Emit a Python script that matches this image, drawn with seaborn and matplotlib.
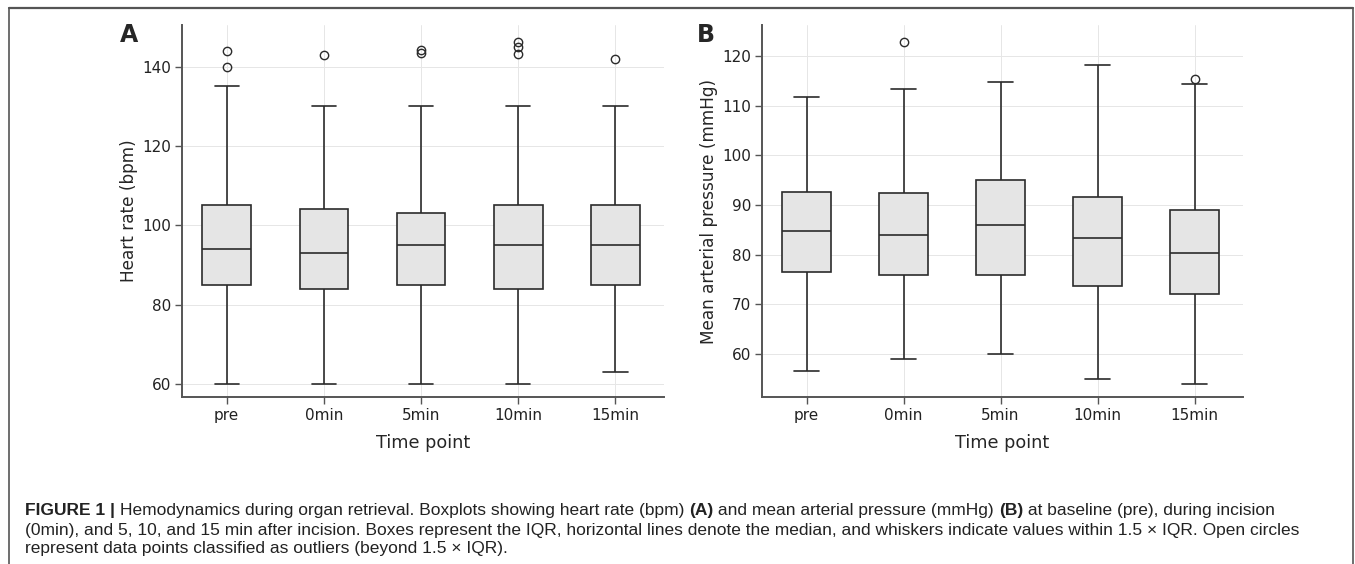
import numpy as np
import pandas as pd
import matplotlib
matplotlib.use("Agg")
import matplotlib.pyplot as plt
from matplotlib.lines import Line2D
import seaborn as sns

# ---------------- data ----------------
time_points = ["pre", "0min", "5min", "10min", "15min"]

hr_whisker_low = [60, 60, 60, 60, 63]
hr_q1 = [85, 84, 85, 84, 85]
hr_median = [94, 93, 95, 95, 95]
hr_q3 = [105, 104, 103, 105, 105]
hr_whisker_high = [135, 130, 130, 130, 130]
hr_outliers = [[140, 144], [143], [143.4, 144.2], [143.1, 145.0, 146.3], [142]]

map_whisker_low = [56.6, 59.0, 60.0, 55.0, 54.0]
map_q1 = [76.6, 76.0, 76.0, 73.7, 72.1]
map_median = [84.8, 84.0, 86.0, 83.4, 80.4]
map_q3 = [92.7, 92.4, 95.0, 91.6, 89.1]
map_whisker_high = [111.7, 113.4, 114.8, 118.1, 114.4]
map_outliers = [[], [122.7], [], [], [115.4]]


def long_table(lo, q1, med, q3, hi, outl):
    """Sample table whose quartiles / whiskers reproduce the read summary."""
    rows = []
    for i, t in enumerate(time_points):
        vals = [lo[i]] + [q1[i]] * 10 + [med[i]] * 10 + [q3[i]] * 10 + [hi[i]] + list(outl[i])
        rows += [(t, v) for v in vals]
    return pd.DataFrame(rows, columns=["time", "value"])


hr_df = long_table(hr_whisker_low, hr_q1, hr_median, hr_q3, hr_whisker_high, hr_outliers)
map_df = long_table(map_whisker_low, map_q1, map_median, map_q3, map_whisker_high, map_outliers)

# ---------------- style ----------------
sns.set_theme(style="whitegrid")
plt.rcParams["font.family"] = ["DejaVu Sans"]

W, H, DPI = 1355, 564, 100
fig = plt.figure(figsize=(W / DPI, H / DPI), dpi=DPI)
fig.patch.set_facecolor("white")


def px_axes(left, top, right, bottom):
    return fig.add_axes([left / W, 1 - bottom / H, (right - left) / W, (bottom - top) / H])


axA = px_axes(182, 25, 664, 397)
axB = px_axes(762, 25, 1243, 397)

spine_col = "#555555"
line_col = "#2b2b2b"

for ax, df, ylab, ylim, yticks in [
    (axA, hr_df, "Heart rate (bpm)", (56.7, 150.5), [60, 80, 100, 120, 140]),
    (axB, map_df, "Mean arterial pressure (mmHg)", (51.4, 126.2), [60, 70, 80, 90, 100, 110, 120]),
]:
    sns.boxplot(
        data=df, x="time", y="value", order=time_points, ax=ax,
        width=0.5, color="#e5e5e5", linecolor=line_col, linewidth=1.2,
        fliersize=6, whis=1.5,
        flierprops=dict(marker="o", markerfacecolor="none",
                        markeredgecolor=line_col, markeredgewidth=1.0),
    )
    for p in ax.patches:
        p.set_facecolor("#e5e5e5")
    ax.set_xlim(-0.46, 4.5)
    ax.set_ylim(*ylim)
    ax.set_yticks(yticks)
    ax.set_xlabel("Time point", fontsize=12.7, labelpad=8)
    ax.set_ylabel(ylab, fontsize=12.2, labelpad=3)
    ax.grid(True, color="#e6e6e6", linewidth=0.7)
    ax.set_axisbelow(True)
    for s in ["top", "right"]:
        ax.spines[s].set_visible(False)
    for s in ["left", "bottom"]:
        ax.spines[s].set_visible(True)
        ax.spines[s].set_color(spine_col)
        ax.spines[s].set_linewidth(1.4)
    ax.tick_params(axis="both", which="major", length=5, width=1.0, color=spine_col,
                   labelsize=11, labelcolor="#222222", pad=3, left=True, bottom=True)
    ax.set_facecolor("white")

fig.text(120 / W, 1 - 35 / H, "A", fontsize=17, fontweight="bold", va="center", ha="left")
fig.text(697 / W, 1 - 35 / H, "B", fontsize=17, fontweight="bold", va="center", ha="left")

# ---------------- frame ----------------
frame_col = "#555555"
fig.add_artist(Line2D([9 / W, 1353 / W], [1 - 8 / H, 1 - 8 / H], color=frame_col, lw=1.6, transform=fig.transFigure))
fig.add_artist(Line2D([9 / W, 9 / W], [1 - 8 / H, 0], color=frame_col, lw=1.2, transform=fig.transFigure))
fig.add_artist(Line2D([1353 / W, 1353 / W], [1 - 8 / H, 0], color=frame_col, lw=1.2, transform=fig.transFigure))

# ---------------- caption ----------------
cap_font = "Liberation Sans"
cap_size = 12.55
cap_lines = [
    [("FIGURE 1 | ", "bold"), ("Hemodynamics during organ retrieval. Boxplots showing heart rate (bpm) ", "normal"),
     ("(A)", "bold"), (" and mean arterial pressure (mmHg) ", "normal"), ("(B)", "bold"),
     (" at baseline (pre), during incision", "normal")],
    [("(0min), and 5, 10, and 15 min after incision. Boxes represent the IQR, horizontal lines denote the median, "
      "and whiskers indicate values within 1.5 \u00d7 IQR. Open circles", "normal")],
    [("represent data points classified as outliers (beyond 1.5 \u00d7 IQR).", "normal")],
]
cap_y = [510, 530, 549]
fig.canvas.draw()
renderer = fig.canvas.get_renderer()
for line, y in zip(cap_lines, cap_y):
    x = 25
    for txt, wt in line:
        t = fig.text(x / W, 1 - y / H, txt, fontsize=cap_size, fontweight=wt, family=cap_font,
                     va="center", ha="left", color="#222222")
        bb = t.get_window_extent(renderer=renderer)
        x += bb.width

fig.savefig("out.png", dpi=DPI, facecolor="white")
